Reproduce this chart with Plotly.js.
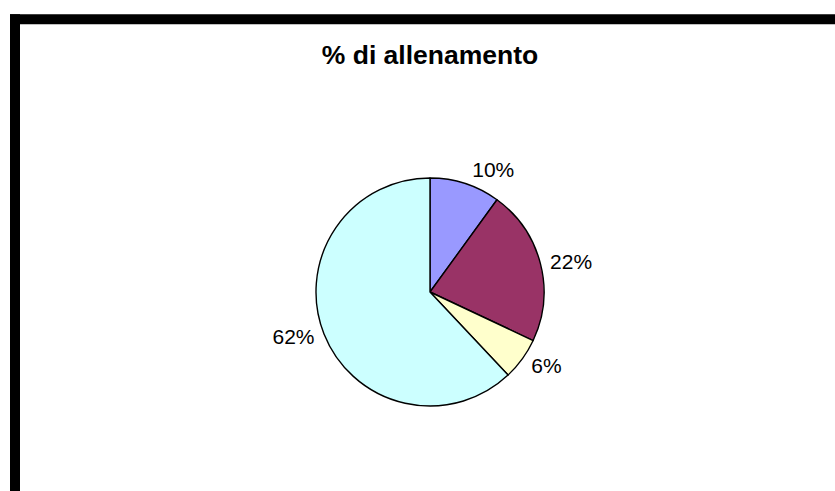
<!DOCTYPE html>
<html>
<head>
<meta charset="utf-8">
<script src="https://cdn.plot.ly/plotly-3.0.1.min.js"></script>
<style>
html,body{margin:0;padding:0;background:#fff;}
#chart{width:835px;height:491px;}
</style>
</head>
<body>
<div id="chart"></div>
<script>
const categories = ["A", "B", "C", "D"];
const values = [10, 22, 6, 62];
const colors = ["#9999FF", "#993366", "#FFFFCC", "#CCFFFF"];
const titleText = "% di allenamento";

const FONT = "Liberation Sans, Arial, sans-serif";
// plot area 260x260 centered at (430, 291.7)
const PA = 260;
const Rpie = 114, Rlab = 118;
const dom = r => [0.5 - r / PA, 0.5 + r / PA];

const labelTrace = {
  type: "pie",
  labels: categories,
  values: values,
  sort: false,
  direction: "clockwise",
  rotation: 0,
  domain: {x: dom(Rlab), y: dom(Rlab)},
  marker: {colors: ["rgba(0,0,0,0)","rgba(0,0,0,0)","rgba(0,0,0,0)","rgba(0,0,0,0)"], line: {width: 0}},
  texttemplate: "%{percent:.0%}",
  textposition: "outside",
  outsidetextfont: {family: FONT, size: 21, color: "#000"},
  hoverinfo: "none",
  showlegend: false
};

const pieTrace = {
  type: "pie",
  labels: categories,
  values: values,
  sort: false,
  direction: "clockwise",
  rotation: 0,
  domain: {x: dom(Rpie), y: dom(Rpie)},
  marker: {colors: colors, line: {color: "#000", width: 1.4}},
  textinfo: "none",
  hoverinfo: "none",
  showlegend: false
};

const L = 300, T = 291.7 - PA / 2;
const layout = {
  width: 835, height: 491,
  margin: {l: L, r: 835 - L - PA, t: T, b: 491 - T - PA},
  paper_bgcolor: "#fff",
  plot_bgcolor: "#fff",
  title: {
    text: "<b>" + titleText + "</b>",
    font: {family: FONT, size: 26.5, color: "#000"},
    x: 430 / 835, xref: "container", xanchor: "center",
    y: 1 - 55 / 491, yref: "container", yanchor: "middle"
  },
  shapes: [
    {type: "rect", xref: "paper", yref: "paper",
     x0: (10 - L) / PA, x1: (20 - L) / PA, y0: (T + PA - 491) / PA, y1: (T + PA - 14) / PA,
     fillcolor: "#000", line: {width: 0}},
    {type: "rect", xref: "paper", yref: "paper",
     x0: (10 - L) / PA, x1: (835 - L) / PA, y0: (T + PA - 24) / PA, y1: (T + PA - 14) / PA,
     fillcolor: "#000", line: {width: 0}}
  ]
};

Plotly.newPlot("chart", [labelTrace, pieTrace], layout, {displayModeBar: false, staticPlot: true});
</script>
</body>
</html>
